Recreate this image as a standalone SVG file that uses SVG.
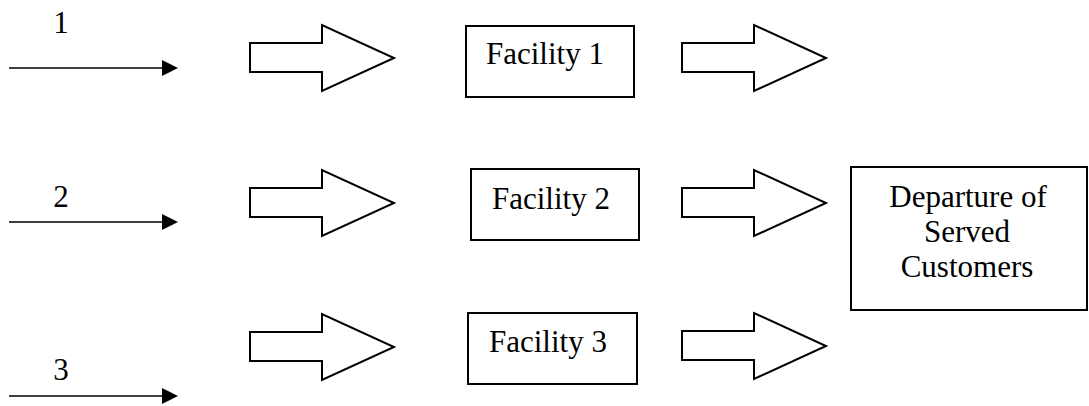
<svg xmlns="http://www.w3.org/2000/svg" xmlns:xlink="http://www.w3.org/1999/xlink" width="1089" height="406" viewBox="0 0 1089 406">
<style>
.box{fill:#fff;stroke:#000;stroke-width:2}
.blk{fill:#fff;stroke:#000;stroke-width:2;stroke-linejoin:miter}
.ln{stroke:#000;stroke-width:1.6;fill:none}
.hd{fill:#000}
text{font-family:"Liberation Serif","Times New Roman",serif;font-size:31px;fill:#000}
.c{text-anchor:middle}
</style>
<defs>
<path id="blockArrow" class="blk" d="M0,0 H72 V-18 L144,15 L72,48 V29 H0 Z"/>
</defs>
<g id="connectors">
<g id="arrival-1">
<text class="c" x="61" y="33">1</text>
<line class="ln" x1="9" y1="68" x2="164" y2="68"/>
<polygon class="hd" points="162,60 178,68 162,76"/>
</g>
<g id="arrival-2">
<text class="c" x="61" y="207">2</text>
<line class="ln" x1="9" y1="222" x2="164" y2="222"/>
<polygon class="hd" points="162,214 178,222 162,230"/>
</g>
<g id="arrival-3">
<text class="c" x="61" y="380">3</text>
<line class="ln" x1="9" y1="396" x2="164" y2="396"/>
<polygon class="hd" points="162,388 178,396 162,404"/>
</g>
<use xlink:href="#blockArrow" transform="translate(250,43)"/>
<use xlink:href="#blockArrow" transform="translate(682,43)"/>
<use xlink:href="#blockArrow" transform="translate(250,188)"/>
<use xlink:href="#blockArrow" transform="translate(682,188)"/>
<use xlink:href="#blockArrow" transform="translate(250,332)"/>
<use xlink:href="#blockArrow" transform="translate(682,331)"/>
</g>
<g id="facility-1">
<rect class="box" x="466" y="26" width="168" height="71"/>
<text x="486" y="64">Facility 1</text>
</g>
<g id="facility-2">
<rect class="box" x="471" y="169" width="168" height="71"/>
<text x="492" y="209">Facility 2</text>
</g>
<g id="facility-3">
<rect class="box" x="468" y="313" width="169" height="71"/>
<text x="489" y="352">Facility 3</text>
</g>
<g id="departure">
<rect class="box" x="851" y="167" width="236" height="143"/>
<text class="c" x="968" y="207">Departure of</text>
<text class="c" x="967" y="242">Served</text>
<text class="c" x="967" y="277">Customers</text>
</g>
</svg>
